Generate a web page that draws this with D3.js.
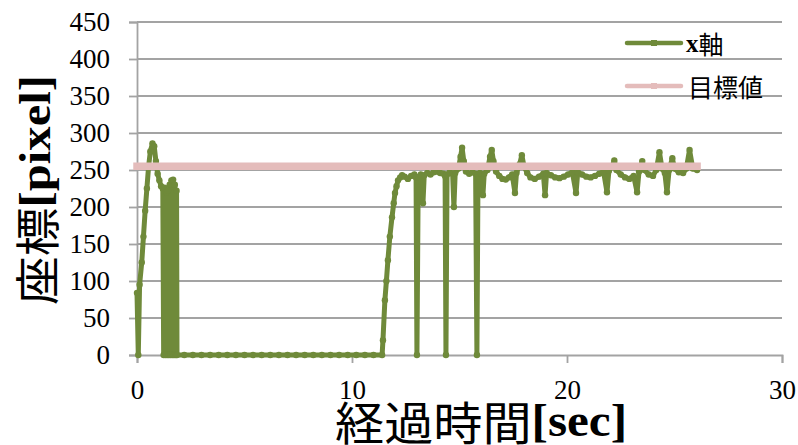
<!DOCTYPE html>
<html>
<head>
<meta charset="utf-8">
<script src="https://cdn.jsdelivr.net/npm/d3@7"></script>
<style>
  html, body { margin: 0; padding: 0; background: #fff; }
  svg { display: block; }
  .serif { font-family: "Liberation Serif", "Times New Roman", serif; }
  .cjk { font-family: "Noto Sans CJK JP", sans-serif; }
</style>
</head>
<body>
<svg id="chart" width="798" height="445"></svg>
<script>
// Elapsed time [sec] of each x-axis sample
const times = [
  0.00, 0.06, 0.12, 0.22, 0.30, 0.38, 0.46, 0.54, 0.62, 0.72, 0.80, 0.88, 0.96, 1.04, 1.12, 1.20,
  1.24, 1.28, 1.32, 1.36, 1.40, 1.44, 1.48, 1.52, 1.56, 1.60, 1.64, 1.68, 1.72, 1.76, 1.80, 1.84, 1.86,
  2.2, 2.6, 3.0, 3.4, 3.8, 4.2, 4.6, 5.0, 5.4, 5.8, 6.2, 6.6, 7.0, 7.4, 7.8, 8.2, 8.6, 9.0, 9.4,
  9.8, 10.2, 10.6, 11.0, 11.4,
  11.44, 11.53, 11.60, 11.67, 11.76, 11.86, 11.94, 12.00, 12.07, 12.14, 12.24, 12.33,
  12.45, 12.60, 12.75, 12.90, 12.98, 13.02, 13.08, 13.20, 13.30, 13.36, 13.50, 13.65, 13.80, 13.95,
  14.10, 14.25, 14.33, 14.37, 14.42, 14.55, 14.68, 14.74, 14.80, 14.95, 15.05, 15.12, 15.20, 15.30,
  15.45, 15.60, 15.75, 15.81, 15.86, 15.95, 16.09, 16.15, 16.30, 16.42, 16.50, 16.58, 16.70, 16.85,
  17.00, 17.15, 17.30, 17.45, 17.58, 17.65, 17.80, 17.90, 18.00, 18.15, 18.30, 18.50, 18.70, 18.90,
  18.98, 19.05, 19.25, 19.45, 19.65, 19.85, 20.05, 20.25, 20.42, 20.50, 20.70, 20.90, 21.10, 21.30,
  21.50, 21.70, 21.86, 21.95, 22.10, 22.20, 22.30, 22.50, 22.70, 22.90, 23.10, 23.26, 23.35, 23.50,
  23.60, 23.80, 24.00, 24.15, 24.30, 24.42, 24.55, 24.65, 24.75, 24.90, 25.00, 25.20, 25.40, 25.55,
  25.70, 25.85, 26.05
];

// Measured x-axis coordinate [pixel] at each sample
const xAxisValues = [
  84, 0, 95, 125, 160, 195, 225, 255, 275, 286, 282, 262, 245, 236, 228, 225,
  0, 226, 0, 220, 0, 222, 0, 230, 0, 236, 0, 237, 0, 230, 0, 222, 0,
  0, 0, 0, 0, 0, 0, 0, 0, 0, 0, 0, 0, 0, 0, 0, 0, 0, 0, 0,
  0, 0, 0, 0, 0,
  20, 74, 100, 128, 160, 186, 205, 219, 228, 236, 240, 243,
  241, 238, 242, 244, 240, 0, 240, 244, 205, 243, 246, 244, 247, 248,
  246, 245, 242, 0, 244, 247, 245, 200, 246, 252, 268, 280, 262, 248,
  245, 247, 245, 0, 244, 246, 216, 245, 250, 268, 277, 262, 248, 242,
  238, 237, 240, 244, 219, 246, 258, 270, 255, 246, 240, 238, 241, 245,
  216, 246, 243, 240, 239, 241, 244, 247, 219, 247, 244, 241, 240, 242,
  245, 248, 220, 249, 255, 263, 250, 244, 240, 238, 242, 220, 248, 262,
  250, 244, 242, 250, 274, 252, 246, 220, 250, 266, 252, 247, 246, 252,
  277, 252, 250
];

// Target coordinate [pixel]
const targetValue = 255;

// Axis ticks
const xTicks = [0, 10, 20, 30];
const yTicks = [0, 50, 100, 150, 200, 250, 300, 350, 400, 450];

// Legend entries
const seriesNames = ["x軸", "目標値"];

const GREEN = "#6f8a3a";
const PINK = "#e4bcbb";
const GRID = "#a3a3a3";

const svg = d3.select("#chart");

const x = d3.scaleLinear().domain([0, 30]).range([137, 782]);
const y = d3.scaleLinear().domain([0, 450]).range([355, 22]);

// Horizontal gridlines
svg.append("g")
  .selectAll("line")
  .data(yTicks.filter(d => d > 0))
  .join("line")
  .attr("x1", x(0)).attr("x2", x(30))
  .attr("y1", d => y(d)).attr("y2", d => y(d))
  .attr("stroke", GRID).attr("stroke-width", 1.8);

// Y axis
const yAxis = svg.append("g")
  .attr("transform", `translate(${x(0)},0)`)
  .call(d3.axisLeft(y).tickValues(yTicks).tickSize(8).tickPadding(19));
yAxis.attr("font-family", null);
yAxis.select(".domain").attr("stroke", GRID).attr("stroke-width", 1.8);
yAxis.selectAll(".tick line").attr("stroke", GRID).attr("stroke-width", 1.8);
yAxis.selectAll(".tick text")
  .attr("class", "serif")
  .style("font-size", "27px")
  .attr("fill", "#000");

// X axis
const xAxis = svg.append("g")
  .attr("transform", `translate(0,${y(0)})`)
  .call(d3.axisBottom(x).tickValues(xTicks).tickSize(8).tickPadding(17));
xAxis.attr("font-family", null);
xAxis.select(".domain").attr("stroke", GRID).attr("stroke-width", 1.8);
xAxis.selectAll(".tick line").attr("stroke", GRID).attr("stroke-width", 1.8);
xAxis.selectAll(".tick text")
  .attr("class", "serif")
  .style("font-size", "27px")
  .attr("fill", "#000");

// Measured x-axis series
const pts = times.map((t, i) => [t, xAxisValues[i]]);
const line = d3.line().x(d => x(d[0])).y(d => y(d[1]));

svg.append("path")
  .datum(pts)
  .attr("d", line)
  .attr("fill", "none")
  .attr("stroke", GREEN)
  .attr("stroke-width", 5)
  .attr("stroke-linejoin", "round")
  .attr("stroke-linecap", "round");

svg.append("g")
  .selectAll("circle")
  .data(pts)
  .join("circle")
  .attr("cx", d => x(d[0]))
  .attr("cy", d => y(d[1]))
  .attr("r", 3.2)
  .attr("fill", GREEN);

// Target line across the same time span
const tExtent = d3.extent(times);
svg.append("path")
  .datum([[tExtent[0], targetValue], [tExtent[1], targetValue]])
  .attr("d", line)
  .attr("fill", "none")
  .attr("stroke", PINK)
  .attr("stroke-width", 7.5)
  .attr("stroke-linecap", "square");

// Legend
const legend = svg.append("g");
const legendRows = [
  { name: seriesNames[0], color: GREEN, y: 43 },
  { name: seriesNames[1], color: PINK, y: 86 }
];
legendRows.forEach(r => {
  legend.append("line")
    .attr("x1", 627).attr("x2", 681)
    .attr("y1", r.y).attr("y2", r.y)
    .attr("stroke", r.color).attr("stroke-width", 4.5)
    .attr("stroke-linecap", "round");
  legend.append("rect")
    .attr("x", 651).attr("y", r.y - 3)
    .attr("width", 6).attr("height", 6)
    .attr("fill", r.color);
});
legend.append("text")
  .attr("x", 686).attr("y", 43)
  .attr("dominant-baseline", "central")
  .style("font-size", "25px")
  .call(t => {
    t.append("tspan").attr("class", "serif").style("font-weight", "bold").text("x");
    t.append("tspan").attr("class", "cjk").text("軸");
  });
legend.append("text")
  .attr("x", 688).attr("y", 86)
  .attr("dominant-baseline", "central")
  .attr("class", "cjk")
  .style("font-size", "25px")
  .text(seriesNames[1]);

// Axis titles
svg.append("text")
  .attr("transform", "translate(35,190) rotate(-90)")
  .attr("text-anchor", "middle")
  .attr("dominant-baseline", "central")
  .style("font-size", "45px")
  .attr("textLength", 230)
  .attr("lengthAdjust", "spacingAndGlyphs")
  .call(t => {
    t.append("tspan").attr("class", "cjk").text("座標");
    t.append("tspan").attr("class", "serif").style("font-weight", "bold").text("[pixel]");
  });

svg.append("text")
  .attr("x", 481).attr("y", 420)
  .attr("text-anchor", "middle")
  .attr("dominant-baseline", "central")
  .style("font-size", "46px")
  .attr("textLength", 292)
  .attr("lengthAdjust", "spacingAndGlyphs")
  .call(t => {
    t.append("tspan").attr("class", "cjk").text("経過時間");
    t.append("tspan").attr("class", "serif").style("font-weight", "bold").text("[sec]");
  });
</script>
</body>
</html>
